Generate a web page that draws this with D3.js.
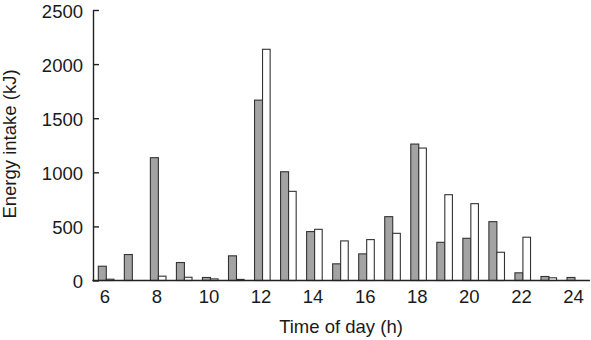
<!DOCTYPE html>
<html>
<head>
<meta charset="utf-8">
<script src="https://cdn.jsdelivr.net/npm/d3@7"></script>
<style>
  body { margin: 0; background: #fff; }
  svg text { font-family: "Liberation Sans", Arial, sans-serif; fill: #1a1a1a; }
</style>
</head>
<body>
<svg id="chart" width="591" height="340"></svg>
<script>
// hours of the day and the two series (kJ)
var hours = [6, 7, 8, 9, 10, 11, 12, 13, 14, 15, 16, 17, 18, 19, 20, 21, 22, 23, 24];
var grayValues = [132, 240, 1135, 166, 28, 228, 1667, 1005, 452, 154, 246, 590, 1261, 353, 390, 544, 71, 37, 28];
var whiteValues = [12, 0, 40, 30, 15, 10, 2137, 824, 473, 366, 378, 436, 1224, 793, 710, 261, 400, 25, 0];
var xTicks = [6, 8, 10, 12, 14, 16, 18, 20, 22, 24];
var yTicks = [0, 500, 1000, 1500, 2000, 2500];

var svg = d3.select("#chart");
var fontSize = "18.5px";

var x = d3.scaleLinear().domain([6, 24]).range([104.3, 573]);
var y = d3.scaleLinear().domain([0, 2500]).range([280.5, 10]);

var rows = hours.map(function(h, i) {
    return { hour: h, gray: grayValues[i], white: whiteValues[i] };
});

// bars
svg.append("g").selectAll("rect")
    .data(rows.filter(function(d) { return d.gray > 0; }))
    .enter().append("rect")
    .attr("x", function(d) { return x(d.hour) - 6; })
    .attr("y", function(d) { return y(d.gray); })
    .attr("width", 8)
    .attr("height", function(d) { return y(0) - y(d.gray); })
    .attr("fill", "#a3a3a3")
    .attr("stroke", "#333")
    .attr("stroke-width", 1.1);

svg.append("g").selectAll("rect")
    .data(rows.filter(function(d) { return d.white > 0; }))
    .enter().append("rect")
    .attr("x", function(d) { return x(d.hour) + 2; })
    .attr("y", function(d) { return y(d.white); })
    .attr("width", 7.6)
    .attr("height", function(d) { return y(0) - y(d.white); })
    .attr("fill", "#fff")
    .attr("stroke", "#333")
    .attr("stroke-width", 1.1);

// y axis, ticks pointing inward
var yAxis = svg.append("g")
    .attr("transform", "translate(93,0)")
    .call(d3.axisLeft(y).tickValues(yTicks).tickFormat(d3.format("d"))
        .tickSizeInner(-6).tickSizeOuter(0).tickPadding(10));
yAxis.selectAll("text").style("font-size", fontSize).attr("dy", "0.38em");
yAxis.selectAll("line, path").attr("stroke", "#222").attr("stroke-width", 1.4);

// x axis, no tick marks
var xAxis = svg.append("g")
    .attr("transform", "translate(0,280.5)")
    .call(d3.axisBottom(x).tickValues(xTicks).tickSize(0).tickPadding(9));
xAxis.select(".domain").remove();
xAxis.selectAll("text").style("font-size", fontSize);
svg.append("line")
    .attr("x1", 92.3).attr("x2", 590)
    .attr("y1", 280.5).attr("y2", 280.5)
    .attr("stroke", "#222").attr("stroke-width", 1.4);

// axis titles
svg.append("text")
    .attr("x", 341).attr("y", 333)
    .attr("text-anchor", "middle")
    .style("font-size", fontSize)
    .text("Time of day (h)");

svg.append("text")
    .attr("transform", "translate(16,144) rotate(-90)")
    .attr("text-anchor", "middle")
    .style("font-size", fontSize)
    .text("Energy intake (kJ)");
</script>
</body>
</html>
